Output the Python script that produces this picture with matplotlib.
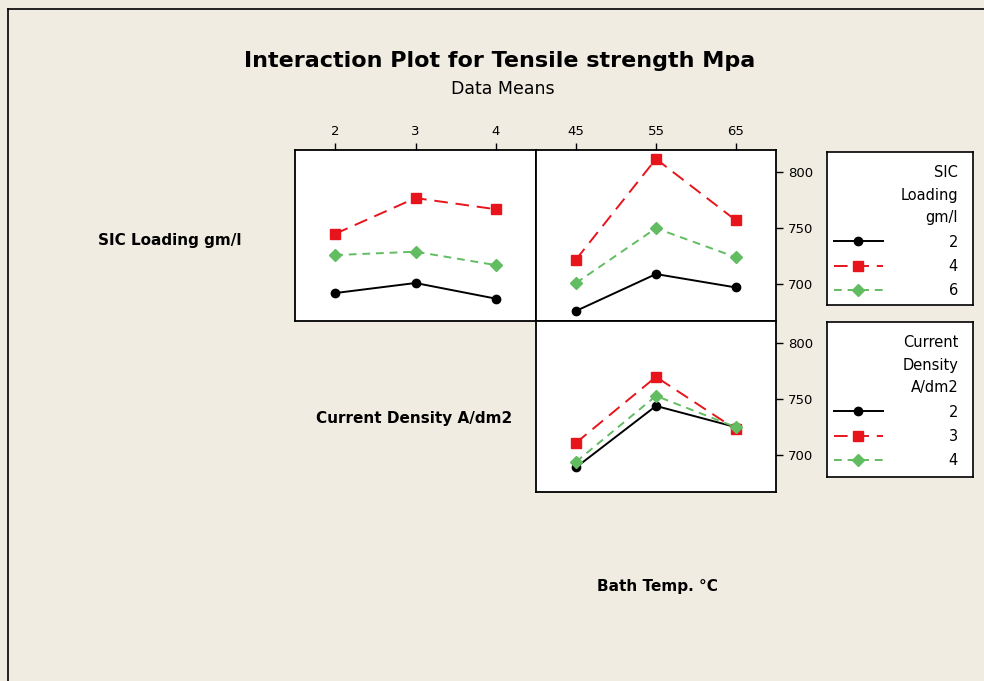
import matplotlib
matplotlib.use("Agg")
import matplotlib.pyplot as plt
from matplotlib.lines import Line2D

# factor levels
current_density = [2, 3, 4]
bath_temp = [45, 55, 65]
sic_labels = ["2", "4", "6"]
cd_labels = ["2", "3", "4"]

# means: SIC loading lines vs current density
sic2_vs_cd = [692, 701, 687]
sic4_vs_cd = [745, 777, 767]
sic6_vs_cd = [726, 729, 717]

# means: SIC loading lines vs bath temp
sic2_vs_temp = [676, 709, 697]
sic4_vs_temp = [722, 812, 757]
sic6_vs_temp = [701, 750, 724]

# means: current density lines vs bath temp
cd2_vs_temp = [689, 744, 725]
cd3_vs_temp = [711, 770, 723]
cd4_vs_temp = [694, 753, 725]

y_ticks = [700, 750, 800]

bg = "#F0ECE2"
red = "#E8141C"
green = "#62BC62"
styles = [
    dict(color="black", ls="-", marker="o", ms=6),
    dict(color=red, ls=(0, (7, 4)), marker="s", ms=6.5),
    dict(color=green, ls=(0, (4, 3)), marker="D", ms=6),
]

W, H = 984, 681
fig = plt.figure(figsize=(W / 100, H / 100), dpi=100, facecolor=bg)


def box(x0, y0, x1, y1):
    return [x0 / W, 1 - y1 / H, (x1 - x0) / W, (y1 - y0) / H]


ax1 = fig.add_axes(box(295, 150, 536, 321))
ax2 = fig.add_axes(box(536, 150, 776, 321))
ax3 = fig.add_axes(box(536, 321, 776, 492))

for ax, x, series in [
    (ax1, current_density, [sic2_vs_cd, sic4_vs_cd, sic6_vs_cd]),
    (ax2, bath_temp, [sic2_vs_temp, sic4_vs_temp, sic6_vs_temp]),
    (ax3, bath_temp, [cd2_vs_temp, cd3_vs_temp, cd4_vs_temp]),
]:
    for ys, st in zip(series, styles):
        ax.plot(x, ys, lw=1.4, color=st["color"], ls=st["ls"],
                marker=st["marker"], ms=st["ms"], mec=st["color"])
    ax.set_ylim(667, 820)
    for s in ax.spines.values():
        s.set_linewidth(1.3)
    ax.tick_params(labelsize=9.5, length=5, width=1, direction="out")

ax1.set_xlim(1.5, 4.5)
ax2.set_xlim(40, 70)
ax3.set_xlim(40, 70)

ax1.set_xticks(current_density)
ax1.xaxis.tick_top()
ax1.set_yticks([])
ax2.set_xticks(bath_temp)
ax2.xaxis.tick_top()
ax2.yaxis.tick_right()
ax2.set_yticks(y_ticks)
ax3.set_xticks([])
ax3.yaxis.tick_right()
ax3.set_yticks(y_ticks)

# legends
for (y0, y1), title, labels in [
    ((152, 305), "SIC\nLoading\ngm/l", sic_labels),
    ((322, 477), "Current\nDensity\nA/dm2", cd_labels),
]:
    lax = fig.add_axes(box(827, y0, 973, y1))
    lax.set_xticks([])
    lax.set_yticks([])
    for s in lax.spines.values():
        s.set_linewidth(1.2)
    handles = [Line2D([], [], lw=1.4, color=st["color"], ls=st["ls"],
                      marker=st["marker"], ms=st["ms"], mec=st["color"])
               for st in styles]
    leg = lax.legend(handles, labels, title=title, loc="upper right",
                     bbox_to_anchor=(1 - 9 / 146, 1 - 7 / (y1 - y0)),
                     frameon=False, fontsize=10.5, title_fontsize=10.5,
                     alignment="right", handlelength=3.4, handletextpad=4.5,
                     labelspacing=0.64, borderaxespad=0.0)
    leg.get_title().set_multialignment("right")
    leg.get_title().set_linespacing(1.64)

# titles and factor names
fig.text(500 / W, 1 - 61 / H, "Interaction Plot for Tensile strength Mpa",
         ha="center", va="center", fontsize=16, fontweight="bold")
fig.text(503 / W, 1 - 89 / H, "Data Means", ha="center", va="center",
         fontsize=12.5)
fig.text(170 / W, 1 - 241 / H, "SIC Loading gm/l", ha="center", va="center",
         fontsize=11, fontweight="bold")
fig.text(414 / W, 1 - 418 / H, "Current Density A/dm2", ha="center",
         va="center", fontsize=11, fontweight="bold")
fig.text(657 / W, 1 - 586 / H, "Bath Temp. °C", ha="center", va="center",
         fontsize=11, fontweight="bold")

# outer frame
fig.add_artist(Line2D([8 / W, 8 / W], [0, 1 - 9 / H], color="black", lw=1.2))
fig.add_artist(Line2D([8 / W, 1], [1 - 9 / H, 1 - 9 / H], color="black", lw=1.2))

fig.savefig("out.png", dpi=100, facecolor=bg)
